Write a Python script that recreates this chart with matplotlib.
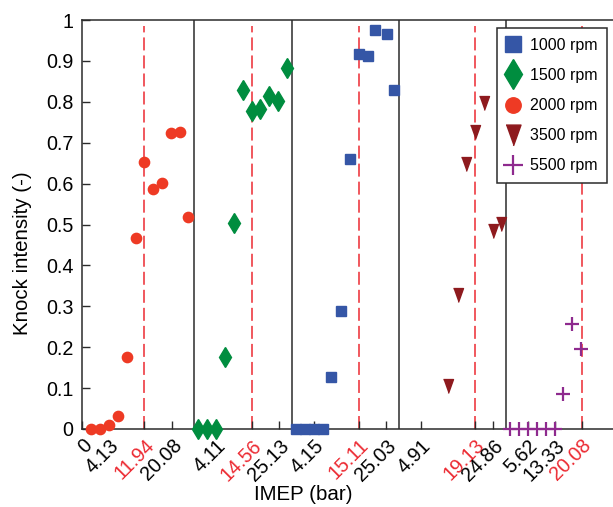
import matplotlib
matplotlib.use('Agg')
from matplotlib import pyplot as plt

plt.rcParams['font.family'] = ['Liberation Sans', 'DejaVu Sans']

# point positions along the concatenated IMEP axis, and knock intensity
x_1000 = [24, 25, 26, 27, 27.9, 29, 30, 31, 32, 32.85, 34.15, 34.95]
ki_1000 = [0, 0, 0, 0, 0.128, 0.288, 0.659, 0.918, 0.912, 0.975, 0.966, 0.830]

x_1500 = [13, 14, 15, 16, 17, 18, 19, 20, 21, 22, 23]
ki_1500 = [0, 0, 0, 0.176, 0.503, 0.830, 0.777, 0.783, 0.815, 0.802, 0.882]

x_2000 = [1, 2, 3, 4, 5, 6, 7, 8, 9, 10, 11, 11.9]
ki_2000 = [0, 0, 0.011, 0.031, 0.177, 0.466, 0.652, 0.586, 0.602, 0.723, 0.727, 0.519]

x_3500 = [41, 42.1, 43, 44, 45, 46, 47]
ki_3500 = [0.106, 0.327, 0.647, 0.727, 0.797, 0.484, 0.502]

x_5500 = [48, 49, 50, 51, 52, 53, 53.9, 54.9, 55.9]
ki_5500 = [0, 0, 0, 0, 0, 0, 0.086, 0.256, 0.196]

# segment boundaries between engine speeds
boundaries = [12.5, 23.5, 35.5, 47.5]

# knock-limited IMEP per speed (red dashed)
limit_pos = [7, 19.05, 31, 44, 56]
limit_labels = ['11.94', '14.56', '15.11', '19.13', '20.08']

tick_pos = [0, 3, 10.1, 15, 22.1, 26, 34.1, 38, 46.05, 50, 53.05]
tick_labels = ['0', '4.13', '20.08', '4.11', '25.13', '4.15', '25.03', '4.91',
               '24.86', '5.62', '13.33']

red = '#EC2A32'
dark = '#2b2b2b'

fig = plt.figure(figsize=(6.13, 5.07), dpi=100)
ax = fig.add_axes([82 / 613, 78 / 507, 531 / 613, 409 / 507])

for b in boundaries:
    ax.axvline(b, color=dark, lw=1.1, zorder=1)
for p in limit_pos:
    ax.axvline(p, ymax=0.985, color=red, lw=1.1, dashes=(8.5, 3.3), zorder=1)

tri = [(-0.72, 1), (0.72, 1), (0, -1)]
ax.plot(x_1000, ki_1000, 's', ms=7.4, color='#3556A6', label='1000 rpm', zorder=3, clip_on=False)
ax.plot(x_1500, ki_1500, 'd', ms=10, color='#008D3F', label='1500 rpm', zorder=3, clip_on=False)
ax.plot(x_2000, ki_2000, 'o', ms=7.4, color='#EE3A24', label='2000 rpm', zorder=3, clip_on=False)
ax.plot(x_3500, ki_3500, marker=tri, ls='none', ms=10, color='#8E1A1E', label='3500 rpm', zorder=3, clip_on=False)
ax.plot(x_5500, ki_5500, '+', ms=9.5, mew=1.6, color='#8E2A8E', label='5500 rpm', zorder=3, clip_on=False)

ax.set_xlim(0, 59.5)
ax.set_ylim(0, 1)
ax.set_yticks([i / 10 for i in range(11)])
ax.set_yticklabels(['0'] + ['0.%d' % i for i in range(1, 10)] + ['1'])

all_pos = tick_pos + limit_pos
all_labels = tick_labels + limit_labels
order = sorted(range(len(all_pos)), key=lambda i: all_pos[i])
ax.set_xticks([all_pos[i] for i in order])
ax.set_xticklabels([all_labels[i] for i in order], rotation=45, ha='right',
                   rotation_mode='anchor')
for lab in ax.get_xticklabels():
    if lab.get_position()[0] in limit_pos:
        lab.set_color(red)

ax.tick_params(direction='in', length=6, width=1, color=dark, labelsize=14.2)
ax.tick_params(axis='x', pad=5)
ax.tick_params(axis='y', pad=6)
for s in ['left', 'bottom', 'top']:
    ax.spines[s].set_color(dark)
    ax.spines[s].set_linewidth(1.1)
ax.spines['right'].set_visible(False)

ax.set_ylabel('Knock intensity (-)', fontsize=14.8)
ax.yaxis.set_label_coords(-0.095, 0.43)
ax.set_xlabel('IMEP (bar)', fontsize=14.8)
ax.xaxis.set_label_coords((303 - 82) / 531, -0.137)

leg = ax.legend(loc='upper right', bbox_to_anchor=(0.989, 0.980), borderaxespad=0,
                fontsize=11.5, fancybox=False, edgecolor=dark, framealpha=1,
                labelspacing=0.95, handletextpad=0.6, handlelength=0.9,
                borderpad=0.6, numpoints=1, markerscale=1.5)
leg.get_frame().set_linewidth(1.1)

fig.savefig('out.png', dpi=100)
